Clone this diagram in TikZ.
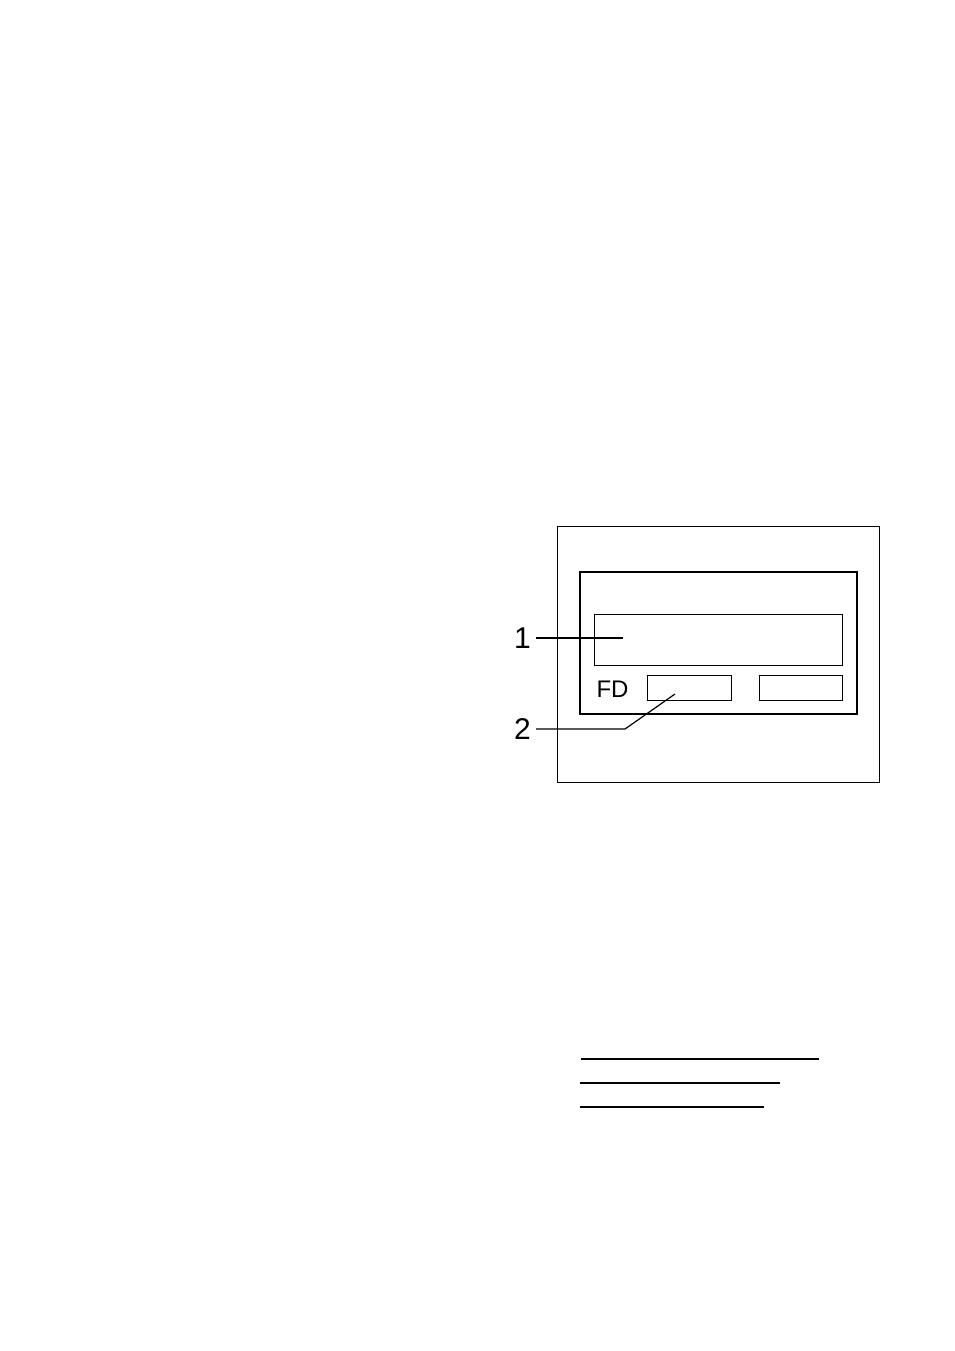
\documentclass[tikz,border=0pt]{standalone}
\usepackage{fontspec}
\setmainfont{Liberation Sans}
\begin{document}
\begin{tikzpicture}[x=1pt,y=-1pt,
  thinbox/.style={draw=black,line width=1pt},
  thickbox/.style={draw=black,line width=2.5pt},
  leader/.style={draw=black,line width=1.2pt},
  callout/.style={font=\fontsize{30}{32}\selectfont,inner sep=0pt},
  rule/.style={draw=black,line width=2pt}]
\useasboundingbox (0,0) rectangle (954,1351);
\node[thinbox,minimum width=322pt,minimum height=256pt,inner sep=0pt] (outer) at (718,654) {};
\node[thickbox,minimum width=277pt,minimum height=142pt,inner sep=0pt] (inner) at (718.5,643) {};
\node[thinbox,minimum width=248pt,minimum height=51pt,inner sep=0pt] (display) at (718.5,639.5) {};
\node[thinbox,minimum width=84pt,minimum height=25pt,inner sep=0pt] (fdbox) at (689,687.5) {};
\node[thinbox,minimum width=83pt,minimum height=25pt,inner sep=0pt] (rbox) at (800.5,687.5) {};
\node[font=\fontsize{24}{26}\selectfont,inner sep=0pt] (fd) at (612.5,689.5) {FD};
\node[callout] (l1) at (522.5,638) {1};
\node[callout] (l2) at (522.5,729) {2};
\coordinate (p1) at (623,638);
\coordinate (k2) at (625,729);
\coordinate (p2) at (675,694);
\draw[leader] ([xshift=5pt]l1.east) -- (p1);
\draw[leader] ([xshift=5pt]l2.east) -- (k2) -- (p2);
\coordinate (a1) at (581,1059); \coordinate (b1) at (819,1059);
\coordinate (a2) at (580,1083); \coordinate (b2) at (780,1083);
\coordinate (a3) at (580,1107); \coordinate (b3) at (764,1107);
\draw[rule] (a1) -- (b1);
\draw[rule] (a2) -- (b2);
\draw[rule] (a3) -- (b3);
\end{tikzpicture}
\end{document}
